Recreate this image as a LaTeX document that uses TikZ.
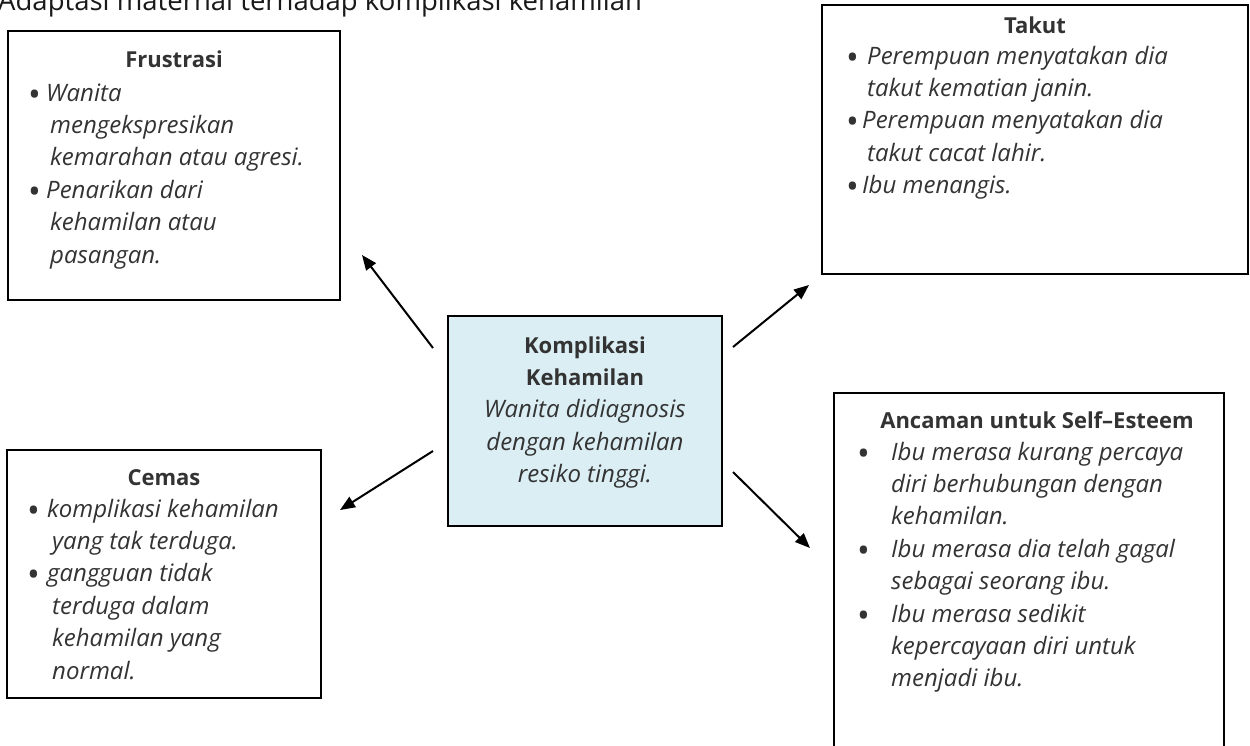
\documentclass[tikz,border=0pt]{standalone}
\usepackage{fontspec}
\setmainfont{Open Sans}
\usetikzlibrary{arrows.meta}
\definecolor{txtc}{RGB}{51,51,51}
\definecolor{cfill}{RGB}{219,238,244}
\newcommand{\bdot}{{\upshape\fontsize{34pt}{34pt}\selectfont\raisebox{-5pt}{•}}}
\newcommand{\bl}[2][18pt]{\makebox[#1][l]{\bdot}#2}
\newcommand{\cl}[2][22pt]{\hspace*{#1}#2}
\tikzset{
  box/.style={draw=black, line width=2pt, inner sep=0pt},
  txt/.style={text=txtc, inner sep=0pt, font=\fontsize{24pt}{32.4pt}\selectfont\itshape},
  hd/.style={text=txtc, inner sep=0pt, font=\fontsize{22pt}{32.4pt}\selectfont\bfseries},
  arr/.style={line width=2pt, -{Triangle[length=15pt,width=12pt]}}
}
\begin{document}
\begin{tikzpicture}[x=1pt,y=-1pt]
\useasboundingbox (0,0) rectangle (1250,745);
\clip (0,0) rectangle (1250,745);
% title
\node[anchor=base west, inner sep=0pt, text=black!90, font=\fontsize{27.5pt}{32pt}\selectfont] (title) at (-2,10) {Adaptasi maternal terhadap komplikasi kehamilan};
% boxes
\node[box, minimum width=332pt, minimum height=269pt] (fr) at (174,165.5) {};
\node[box, minimum width=426pt, minimum height=269pt] (tk) at (1035,139.5) {};
\node[box, fill=cfill, minimum width=274pt, minimum height=210pt] (kp) at (585,421) {};
\node[box, minimum width=314pt, minimum height=248pt] (cm) at (164,574) {};
\node[box, minimum width=390pt, minimum height=380pt] (an) at (1029,583) {};
% headings
\node[hd, anchor=base] (frH) at (174,67) {Frustrasi};
\node[hd, anchor=base] (tkH) at (1035,33) {Takut};
\node[hd, anchor=base] (cmH) at (164,485) {Cemas};
\node[hd, anchor=base] (anH) at (1037,428) {Ancaman untuk Self–Esteem};
% bodies
\node[txt, anchor=base west] (frB) at (28,101) {\parbox[t]{310pt}{%
\bl{Wanita}\\
\cl{mengekspresikan}\\
\cl{kemarahan atau agresi.}\\
\bl{Penarikan dari}\\
\cl{kehamilan atau}\\
\cl{pasangan.}}};
\node[txt, anchor=base west] (tkB) at (846,64) {\parbox[t]{400pt}{%
\bl[21pt]{Perempuan menyatakan dia}\\
\cl[21pt]{takut kematian janin.}\\
\bl[16pt]{Perempuan menyatakan dia}\\
\cl[21pt]{takut cacat lahir.}\\
\bl[16pt]{Ibu menangis.}}};
\node[txt, anchor=base west] (cmB) at (27,517) {\parbox[t]{300pt}{%
\bl[20pt]{komplikasi kehamilan}\\
\cl[25pt]{yang tak terduga.}\\
\bl[20pt]{gangguan tidak}\\
\cl[25pt]{terduga dalam}\\
\cl[25pt]{kehamilan yang}\\
\cl[25pt]{normal.}}};
\node[txt, anchor=base west] (anB) at (857,460) {\parbox[t]{380pt}{%
\bl[34pt]{Ibu merasa kurang percaya}\\
\cl[34pt]{diri berhubungan dengan}\\
\cl[34pt]{kehamilan.}\\
\bl[34pt]{Ibu merasa dia telah gagal}\\
\cl[34pt]{sebagai seorang ibu.}\\
\bl[34pt]{Ibu merasa sedikit}\\
\cl[34pt]{kepercayaan diri untuk}\\
\cl[34pt]{menjadi ibu.}}};
\node[txt, anchor=base] (kpB) at (585,353) {\parbox[t]{270pt}{\centering
{\upshape\fontsize{22pt}{32.4pt}\selectfont\bfseries Komplikasi}\\
{\upshape\fontsize{22pt}{32.4pt}\selectfont\bfseries Kehamilan}\\
Wanita didiagnosis\\
dengan kehamilan\\
resiko tinggi.}};
% arrows
\coordinate (s1) at (433,348); \coordinate (e1) at (362,255);
\coordinate (s2) at (733,347); \coordinate (e2) at (809,285);
\coordinate (s3) at (433,451); \coordinate (e3) at (340,510);
\coordinate (s4) at (733,472); \coordinate (e4) at (810,548);
\draw[arr] (s1) -- (e1);
\draw[arr] (s2) -- (e2);
\draw[arr] (s3) -- (e3);
\draw[arr] (s4) -- (e4);
\end{tikzpicture}
\end{document}
